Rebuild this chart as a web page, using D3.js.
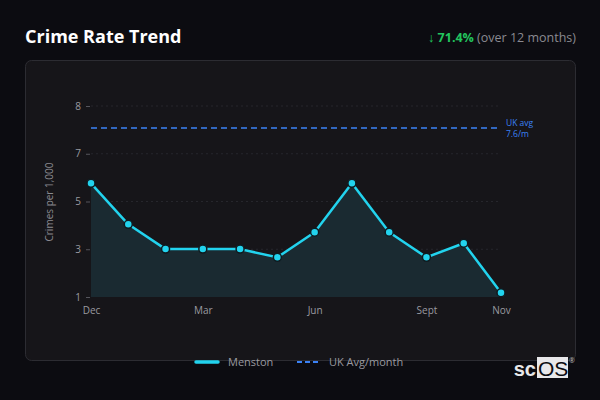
<!DOCTYPE html>
<html>
<head>
<meta charset="utf-8">
<script src="https://cdn.jsdelivr.net/npm/d3@7"></script>
<style>
  body { margin: 0; background: #0c0c11; }
  svg { display: block; font-family: "Open Sans", "Noto Sans", sans-serif; }
</style>
</head>
<body>
<svg id="chart" width="600" height="400"></svg>
<script>
var width = 600,
    height = 400;

// data
var months = ["Dec", "Jan", "Feb", "Mar", "Apr", "May", "Jun", "Jul", "Aug", "Sep", "Oct", "Nov"];
var monthLabels = ["Dec", "", "", "Mar", "", "", "Jun", "", "", "Sept", "", "Nov"];
var menston = [5.44, 3.84, 2.87, 2.87, 2.87, 2.55, 3.53, 5.44, 3.53, 2.55, 3.1, 1.17];
var ukAvg = 7.6;
var yDomain = [1, 8.46];

var margin = {left: 91, right: 99, top: 106, bottom: 103};

var x = d3.scalePoint().domain(months).range([margin.left, width - margin.right]);
var y = d3.scaleLinear().domain(yDomain).range([height - margin.bottom, margin.top]);

var svg = d3.select("#chart");

svg.append("rect") // page background
  .attr("width", width).attr("height", height).attr("fill", "#0c0c11");

svg.append("rect") // panel
  .attr("x", 25.5).attr("y", 60.5)
  .attr("width", 550).attr("height", 300)
  .attr("rx", 6)
  .attr("fill", "#161519")
  .attr("stroke", "#2c2c32");

// title + change summary
svg.append("text")
  .attr("x", 25).attr("y", 43)
  .attr("fill", "#ffffff")
  .attr("font-size", 18).attr("font-weight", 700)
  .text("Crime Rate Trend");

var summary = svg.append("text")
  .attr("x", 576).attr("y", 42)
  .attr("text-anchor", "end")
  .attr("font-size", 12.5);
summary.append("tspan").attr("fill", "#22c55e").attr("font-weight", 700).text("↓ 71.4%");
summary.append("tspan").attr("fill", "#8a8a90").text(" (over 12 months)");

// y ticks: 5 evenly spaced, rounded labels
var yTicks = d3.range(5).map(function(i) { return yDomain[0] + i * (yDomain[1] - yDomain[0]) / 4; });

var yAxis = svg.append("g")
  .attr("transform", "translate(" + (margin.left - 1) + ",0)")
  .call(d3.axisLeft(y).tickValues(yTicks).tickFormat(d3.format(".0f")).tickSize(4).tickPadding(5));
yAxis.select(".domain").remove();
yAxis.selectAll("line").attr("stroke", "#55555c");
yAxis.selectAll("text").attr("fill", "#9a9aa0").attr("font-size", 10).attr("font-family", "Open Sans");

// grid
svg.append("g").selectAll("line")
  .data(yTicks.slice(1))
  .enter().append("line")
  .attr("x1", margin.left).attr("x2", width - margin.right)
  .attr("y1", function(d) { return y(d); })
  .attr("y2", function(d) { return y(d); })
  .attr("stroke", "#26262c")
  .attr("stroke-dasharray", "2,3");

var xAxis = svg.append("g")
  .attr("transform", "translate(0," + (height - margin.bottom) + ")")
  .call(d3.axisBottom(x).tickFormat(function(d, i) { return monthLabels[i]; }).tickSize(0).tickPadding(10));
xAxis.select(".domain").remove();
xAxis.selectAll("text").attr("fill", "#9a9aa0").attr("font-size", 10).attr("font-family", "Open Sans");

svg.append("text") // y-axis title
  .attr("transform", "translate(53,202) rotate(-90)")
  .attr("text-anchor", "middle")
  .attr("fill", "#8a8a90")
  .attr("font-size", 10)
  .text("Crimes per 1,000");

// area + line
var area = d3.area()
  .x(function(d, i) { return x(months[i]); })
  .y0(y(yDomain[0]))
  .y1(function(d) { return y(d); });

svg.append("path")
  .datum(menston)
  .attr("d", area)
  .attr("fill", "#1a2a31");

var line = d3.line()
  .x(function(d, i) { return x(months[i]); })
  .y(function(d) { return y(d); });

svg.append("path")
  .datum(menston)
  .attr("d", line)
  .attr("fill", "none")
  .attr("stroke", "#22d3ee")
  .attr("stroke-width", 2.5)
  .attr("stroke-linejoin", "round");

// UK average
svg.append("line")
  .attr("x1", margin.left).attr("x2", width - margin.right - 4)
  .attr("y1", y(ukAvg)).attr("y2", y(ukAvg))
  .attr("stroke", "#3b82f6")
  .attr("stroke-width", 1.6)
  .attr("stroke-dasharray", "6,4");

var ukLabel = svg.append("text")
  .attr("x", 506).attr("y", y(ukAvg) - 2)
  .attr("fill", "#3b82f6")
  .attr("font-size", 8.5);
ukLabel.append("tspan").text("UK avg");
ukLabel.append("tspan").attr("x", 506).attr("dy", 11).text(ukAvg + "/m");

svg.append("g").selectAll("circle")
  .data(menston)
  .enter().append("circle")
  .attr("cx", function(d, i) { return x(months[i]); })
  .attr("cy", function(d) { return y(d); })
  .attr("r", 4)
  .attr("fill", "#22d3ee")
  .attr("stroke", "#0f1a1f")
  .attr("stroke-width", 1.5);

// legend
var legend = svg.append("g").attr("transform", "translate(0,362)");
legend.append("line")
  .attr("x1", 196).attr("x2", 218).attr("y1", 0).attr("y2", 0)
  .attr("stroke", "#22d3ee").attr("stroke-width", 3.5).attr("stroke-linecap", "round");
legend.append("text")
  .attr("x", 228).attr("y", 4)
  .attr("fill", "#9a9aa0").attr("font-size", 11)
  .text("Menston");
legend.append("line")
  .attr("x1", 297).attr("x2", 321).attr("y1", 0).attr("y2", 0)
  .attr("stroke", "#3b82f6").attr("stroke-width", 1.8).attr("stroke-dasharray", "5,3");
legend.append("text")
  .attr("x", 329).attr("y", 4)
  .attr("fill", "#9a9aa0").attr("font-size", 11)
  .text("UK Avg/month");

// logo
var logo = svg.append("g");
logo.append("rect")
  .attr("x", 537).attr("y", 357).attr("width", 31).attr("height", 21)
  .attr("fill", "#e8e8ea");
logo.append("text")
  .attr("x", 536).attr("y", 376)
  .attr("text-anchor", "end")
  .attr("fill", "#e8e8ea").attr("font-size", 20).attr("font-weight", 700)
  .attr("font-family", "Liberation Sans, Arial, sans-serif")
  .text("sc");
logo.append("text")
  .attr("x", 538).attr("y", 376)
  .attr("fill", "#0c0c11").attr("font-size", 21)
  .attr("font-family", "Liberation Sans, Arial, sans-serif")
  .text("OS");
logo.append("text")
  .attr("x", 569).attr("y", 363)
  .attr("fill", "#bbbbbb").attr("font-size", 7)
  .text("®");
</script>
</body>
</html>
